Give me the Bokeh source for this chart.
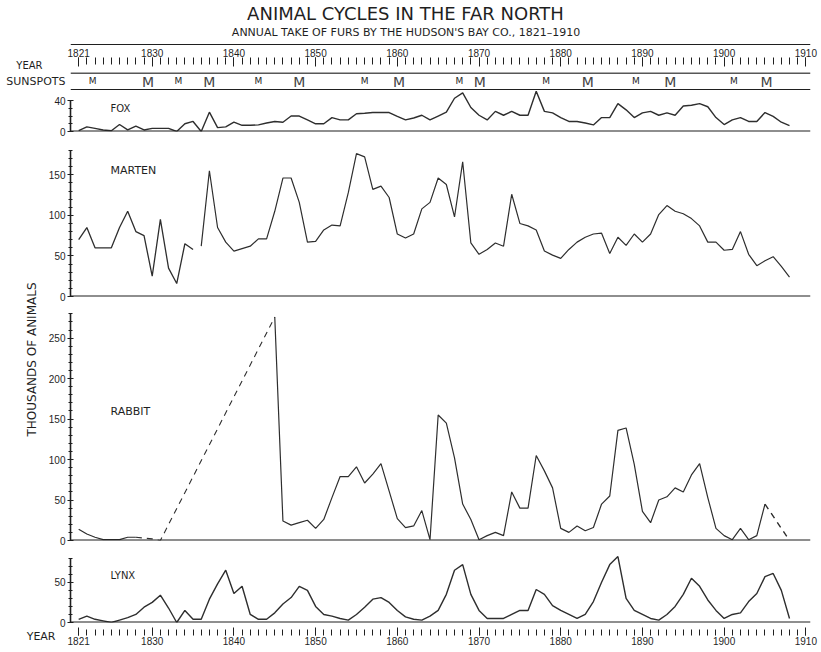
import math
from bokeh.plotting import figure
from bokeh.models import Range1d, FixedTicker, Span
from bokeh.layouts import column, row
from bokeh.core.properties import value
from bokeh.embed import file_html
from bokeh.resources import INLINE

# ---------------- data (thousands of animals) ----------------
fox_years = list(range(1821, 1909))
fox = [1, 6, 4, 2, 1, 9, 2, 7, 2, 4, 4, 4, 0, 10, 13, 0, 25,
       5, 6, 12, 8, 8, 8.5, 11, 13, 12, 20, 20, 15, 10, 10,
       18, 15, 15, 23, 23.5, 24.5, 24.5, 24.5, 19.5, 15, 17.5, 21, 15, 20,
       25, 43, 50, 31, 21, 15, 26, 21, 26, 21, 21, 52, 26, 24, 18, 13,
       13, 11, 8.5, 18, 18, 36, 28, 18, 24, 26, 21, 24, 21, 33, 34, 36,
       32, 18, 9, 15, 18, 13, 13, 24.5, 19.5, 12, 7.6]

marten_years_a = list(range(1821, 1836))
marten_a = [70, 85, 60, 60, 60, 85, 105, 80, 75, 25, 95, 35, 16, 65, 58]
marten_years_b = list(range(1836, 1909))
marten_b = [62, 155, 85, 67, 56, 59, 62, 71, 71, 105,
            146, 146, 116, 67, 68, 82, 88, 87, 128, 176,
            172, 132, 136, 122, 77, 72, 77, 108, 116, 146,
            138, 98, 166, 66, 52, 58, 66, 62, 126, 90,
            87, 82, 56, 51, 47, 58, 67, 73, 77, 78,
            53, 73, 63, 77, 67, 77, 101, 112, 105, 102,
            96, 87, 67, 67, 57, 58, 80, 52, 38, 44,
            49, 37, 24]

rabbit_years_a = list(range(1821, 1829))
rabbit_a = [14, 8, 4, 1, 1, 1, 4, 4]
rabbit_years_gap = [1828, 1829, 1830, 1831, 1845]
rabbit_gap = [4, 3, 2, 0, 276]
rabbit_years_b = list(range(1845, 1906))
rabbit_b = [276, 24, 19, 22, 25, 15, 26, 53, 79, 79,
            91, 71, 82, 95, 61, 27, 16, 18, 37, 1,
            155, 145, 102, 45, 26, 1, 6, 10, 6, 60,
            40, 40, 105, 86, 65, 15, 10, 18, 12, 16,
            45, 55, 136, 139, 94, 36, 22, 50, 54, 65,
            60, 81, 95, 53, 15, 6, 1, 15, 1, 6,
            45]
rabbit_years_end = [1905, 1908]
rabbit_end = [45, 0]

lynx_years = list(range(1821, 1909))
lynx = [4, 8, 4, 2, 0, 3, 6, 10, 19, 25,
        34, 18, 0, 15, 4, 4, 29, 48, 65, 36,
        45, 10, 4, 4, 12, 23, 31, 45, 40, 20,
        10, 8, 5, 3, 10, 19, 29, 31, 25, 15,
        7, 4, 3, 8, 15, 35, 65, 72, 35, 15,
        5, 5, 5, 10, 15, 15, 41, 35, 21, 15,
        10, 5, 10, 26, 50, 72, 82, 30, 15, 10,
        5, 3, 10, 20, 35, 55, 45, 28, 15, 5,
        10, 12, 26, 36, 57, 61, 40, 5]

sunspot_min = [1822.7, 1833.2, 1843.0, 1856.0, 1867.6, 1878.2, 1889.2, 1901.2]
sunspot_max = [1829.5, 1837.0, 1848.0, 1860.2, 1870.1, 1883.3, 1893.4, 1905.2]

year_ticks = [1821, 1830, 1840, 1850, 1860, 1870, 1880, 1890, 1900, 1910]
year_minor = list(range(1821, 1911))

title = "ANIMAL CYCLES IN THE FAR NORTH"
subtitle = "ANNUAL TAKE OF FURS BY THE HUDSON'S BAY CO.,   1821\u20131910"

# ---------------- styling / layout ----------------
FONT = "DejaVu Sans"
NUMFONT = "Liberation Sans"
INK = "#1f1f1f"
LINE = "#2e2e2e"

X_START, X_END = 1820.0, 1910.57
FRAME_W = 740
LEFT = 70
RIGHT = 9

x_shared = Range1d(X_START, X_END)


def make_fig(frame_h, y_range, left=LEFT, top=0, bottom=0, x_loc=None, y_loc="left",
             frame_w=FRAME_W, x_range=x_shared, right=RIGHT):
    p = figure(frame_width=frame_w, frame_height=frame_h,
               x_range=x_range, y_range=y_range,
               x_axis_location=x_loc, y_axis_location=y_loc,
               output_backend="svg", toolbar_location=None,
               min_border_left=left, min_border_right=right,
               min_border_top=top, min_border_bottom=bottom,
               background_fill_color="white", border_fill_color="white",
               outline_line_color=None)
    p.grid.visible = False
    return p


def style_yaxis(p, major, minor, bounds):
    ax = p.yaxis[0]
    ax.ticker = FixedTicker(ticks=major, minor_ticks=minor)
    ax.bounds = bounds
    ax.axis_line_color = INK
    ax.axis_line_width = 1.6
    ax.major_tick_in = 3
    ax.major_tick_out = 3
    ax.major_tick_line_color = INK
    ax.major_tick_line_width = 1.2
    ax.minor_tick_in = 2
    ax.minor_tick_out = 2
    ax.minor_tick_line_color = INK
    ax.major_label_text_font = NUMFONT
    ax.major_label_text_font_size = "10px"
    ax.major_label_text_color = INK
    ax.major_label_standoff = 2


def name_axis(p, txt, size, standoff, at=0.5):
    ax = p.yaxis[0]
    ax.ticker = FixedTicker(ticks=[at])
    ax.major_label_overrides = {at: txt}
    ax.axis_line_color = None
    ax.major_tick_in = 0
    ax.major_tick_out = 0
    ax.minor_tick_in = 0
    ax.minor_tick_out = 0
    ax.major_label_standoff = standoff
    ax.major_label_text_font = FONT
    ax.major_label_text_font_size = size
    ax.major_label_text_color = INK


def style_xaxis(ax, tick_len):
    ax.ticker = FixedTicker(ticks=year_ticks, minor_ticks=year_minor)
    ax.axis_line_color = None
    ax.major_tick_in = tick_len
    ax.major_tick_out = 0
    ax.minor_tick_in = tick_len - 2
    ax.minor_tick_out = 0
    ax.major_tick_line_color = INK
    ax.minor_tick_line_color = INK
    ax.major_label_text_font = NUMFONT
    ax.major_label_text_font_size = "10px"
    ax.major_label_text_color = INK
    ax.major_label_standoff = 1


def baseline(p, loc=0, width=2.0):
    p.add_layout(Span(location=loc, dimension="width", line_color=INK, line_width=width))


def label(p, x, y, txt, size="11px", align="left", baseline_="middle", angle=0.0):
    p.text(x=[x], y=[y], text=[txt], text_font=value(FONT), text_font_size=size,
           text_color=INK, text_align=align, text_baseline=baseline_, angle=angle)


# ---- title ----
t0 = make_fig(45, Range1d(0, 45), y_loc=None, x_range=Range1d(0, FRAME_W))
label(t0, 335, 32.5, title, size="18px", align="center")
label(t0, 339, 13.5, subtitle, size="11px", align="center")
baseline(t0, 0.7, 1.5)

# ---- top year axis ----
t1 = make_fig(15, Range1d(0, 1), x_loc="above")
style_xaxis(t1.xaxis[0], 9)
name_axis(t1, "YEAR", "10px", 28)

# ---- sunspots row ----
s = make_fig(18, Range1d(0, 18))
name_axis(s, "SUNSPOTS", "11px", 5, at=9)
baseline(s, 17.4, 1.5)
baseline(s, 0.6, 1.8)
s.text(x=sunspot_min, y=[9.5] * len(sunspot_min), text=["M"] * len(sunspot_min),
       text_font=value(FONT), text_font_size="9px", text_color=INK,
       text_align="center", text_baseline="middle")
s.text(x=sunspot_max, y=[9.0] * len(sunspot_max), text=["M"] * len(sunspot_max),
       text_font=value(FONT), text_font_size="14px", text_color="#444444",
       text_align="center", text_baseline="middle")

# ---- fox ----
pf = make_fig(41, Range1d(0, 53), bottom=6)
style_yaxis(pf, [0, 40], [10, 20, 30], (0, 40))
baseline(pf)
pf.line(fox_years, fox, line_color=LINE, line_width=1.4)
label(pf, 1824.9, 30, "FOX", size="10px")

# ---- marten ----
pm = make_fig(155, Range1d(0, 191), left=32, top=4, bottom=6)
style_yaxis(pm, [0, 50, 100, 150], list(range(0, 181, 10)), (0, 180))
baseline(pm)
pm.line(marten_years_a, marten_a, line_color=LINE, line_width=1.3)
pm.line(marten_years_b, marten_b, line_color=LINE, line_width=1.2)
label(pm, 1824.9, 155, "MARTEN", size="11px")

# ---- rabbit ----
pr = make_fig(238, Range1d(0, 294), left=32, bottom=6)
style_yaxis(pr, [0, 50, 100, 150, 200, 250], list(range(0, 281, 10)), (0, 280))
baseline(pr)
pr.line(rabbit_years_a, rabbit_a, line_color=LINE, line_width=1.2)
pr.line(rabbit_years_gap, rabbit_gap, line_color=LINE, line_width=1.1, line_dash="6 5")
pr.line(rabbit_years_b, rabbit_b, line_color=LINE, line_width=1.2)
pr.line(rabbit_years_end, rabbit_end, line_color=LINE, line_width=1.4, line_dash="6 5")
label(pr, 1824.9, 159, "RABBIT", size="11px")

# ---- y label column ----
pl = make_fig(409, Range1d(0, 409), left=0, right=0, y_loc=None,
              frame_w=38, x_range=Range1d(0, 38))
label(pl, 31, 187, "THOUSANDS OF ANIMALS", size="12px", align="center", angle=math.pi / 2)

# ---- lynx ----
py = make_fig(74, Range1d(0, 92), top=2, bottom=5)
style_yaxis(py, [0, 50], list(range(0, 81, 10)), (0, 80))
baseline(py)
py.line(lynx_years, lynx, line_color=LINE, line_width=1.4)
label(py, 1824.9, 59, "LYNX", size="10px")

# ---- bottom year axis ----
pb = make_fig(8, Range1d(0, 1), x_loc="below")
style_xaxis(pb.xaxis[0], 8)
name_axis(pb, "YEAR", "11px", 15)

layout = column(t0, t1, s, pf, row(pl, column(pm, pr)), py, pb)

open("out.html", "w").write(file_html(layout, INLINE))
